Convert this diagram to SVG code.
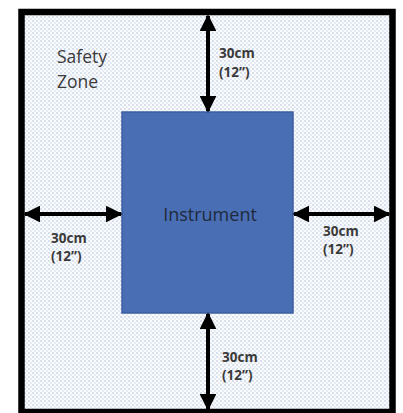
<svg xmlns="http://www.w3.org/2000/svg" width="403" height="413" viewBox="0 0 403 413">
<style>
.lbl{font-family:"Open Sans","Liberation Sans",sans-serif;font-size:13.5px;font-weight:bold;fill:#3a3a3a}
.zone{font-family:"Open Sans","Liberation Sans",sans-serif;font-size:17.5px;fill:#3a3a3a}
.arr{stroke:#000;stroke-width:4;fill:none;marker-start:url(#ah);marker-end:url(#ah)}
</style>
<defs>
<pattern id="dots" width="4" height="4" patternUnits="userSpaceOnUse">
<rect width="4" height="4" fill="#fbfcfe"/>
<circle cx="1" cy="1" r="0.9" fill="#c9d3e6"/>
<circle cx="3" cy="3" r="0.9" fill="#dde3ef"/>
</pattern>
<marker id="ah" viewBox="0 0 10 10" refX="9" refY="5" markerWidth="4.2" markerHeight="4.2" orient="auto-start-reverse" markerUnits="strokeWidth">
<path d="M0,0 L10,5 L0,10 z" fill="#000"/>
</marker>
</defs>
<rect width="403" height="413" fill="#fff"/>
<g id="zone">
<rect x="21.5" y="12" width="371" height="400" fill="url(#dots)" stroke="#000" stroke-width="6.5"/>
<text class="zone" x="57" y="63">Safety</text>
<text class="zone" x="57" y="88">Zone</text>
</g>
<g id="instrument">
<rect x="122" y="112" width="171" height="201" fill="#4a6eb4" stroke="#3d5f9f" stroke-width="1.5"/>
<text x="210" y="221" text-anchor="middle" font-family="'Open Sans','Liberation Sans',sans-serif" font-size="18" fill="#1f2a3d">Instrument</text>
</g>
<g id="connectors">
<line class="arr" x1="208" y1="16" x2="208" y2="111"/>
<line class="arr" x1="208" y1="314" x2="208" y2="409"/>
<line class="arr" x1="25" y1="214" x2="121" y2="214"/>
<line class="arr" x1="294" y1="214" x2="389" y2="214"/>
</g>
<g id="labels">
<text class="lbl" x="219" y="58">30cm</text>
<text class="lbl" x="219" y="77">(12”)</text>
<text class="lbl" x="51" y="243">30cm</text>
<text class="lbl" x="51" y="261">(12”)</text>
<text class="lbl" x="323" y="236">30cm</text>
<text class="lbl" x="323" y="254">(12”)</text>
<text class="lbl" x="222" y="362">30cm</text>
<text class="lbl" x="222" y="380">(12”)</text>
</g>
</svg>
